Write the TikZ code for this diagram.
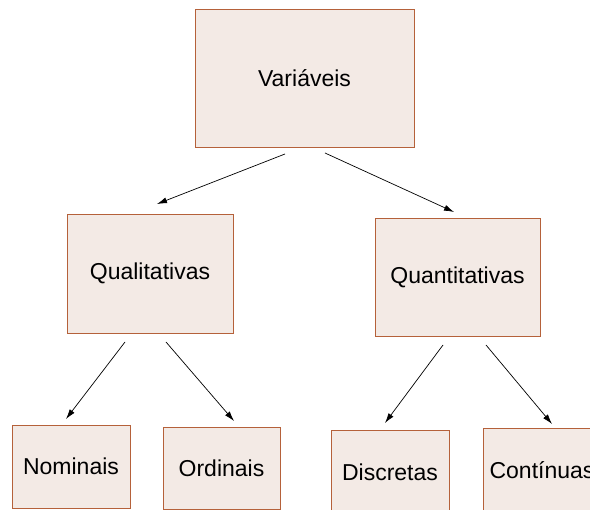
\documentclass[tikz,border=0pt]{standalone}
\usepackage{fontspec}
\setmainfont{Liberation Sans}
\usetikzlibrary{arrows.meta}
\definecolor{boxfill}{HTML}{F3EAE5}
\definecolor{boxline}{HTML}{B5613A}
\begin{document}
\begin{tikzpicture}[x=1pt,y=-1pt,
  box/.style={draw=boxline,fill=boxfill,line width=0.9pt,inner sep=0pt,
    font=\fontsize{23}{27}\selectfont},
  conn/.style={draw=black,line width=0.7pt,-{Latex[length=10pt,width=6pt]}}]
\useasboundingbox (0,0) rectangle (590,510);
\node[box,minimum width=219pt,minimum height=138pt] (v) at (304.5,78) {Variáveis};
\node[box,minimum width=166pt,minimum height=119pt] (ql) at (150,273.5) {Qualitativas};
\node[box,minimum width=165pt,minimum height=118pt] (qt) at (457.5,277) {Quantitativas};
\node[box,minimum width=118pt,minimum height=83pt] (no) at (71,466.5) {Nominais};
\node[box,minimum width=117pt,minimum height=82pt] (or) at (221.5,468) {Ordinais};
\node[box,minimum width=118pt,minimum height=84pt] (di) at (390,472) {Discretas};
\node[box,minimum width=118pt,minimum height=84pt] (co) at (542,470) {Contínuas};
\coordinate (v1) at (285,154); \coordinate (ql1) at (157,204);
\coordinate (v2) at (325,153); \coordinate (qt1) at (454,212);
\coordinate (ql2) at (125,342); \coordinate (no1) at (66,419);
\coordinate (ql3) at (166,342); \coordinate (or1) at (234,421);
\coordinate (qt2) at (443,345); \coordinate (di1) at (385,423);
\coordinate (qt3) at (486,345); \coordinate (co1) at (552,424);
\draw[conn] (v1) -- (ql1);
\draw[conn] (v2) -- (qt1);
\draw[conn] (ql2) -- (no1);
\draw[conn] (ql3) -- (or1);
\draw[conn] (qt2) -- (di1);
\draw[conn] (qt3) -- (co1);
\end{tikzpicture}
\end{document}
